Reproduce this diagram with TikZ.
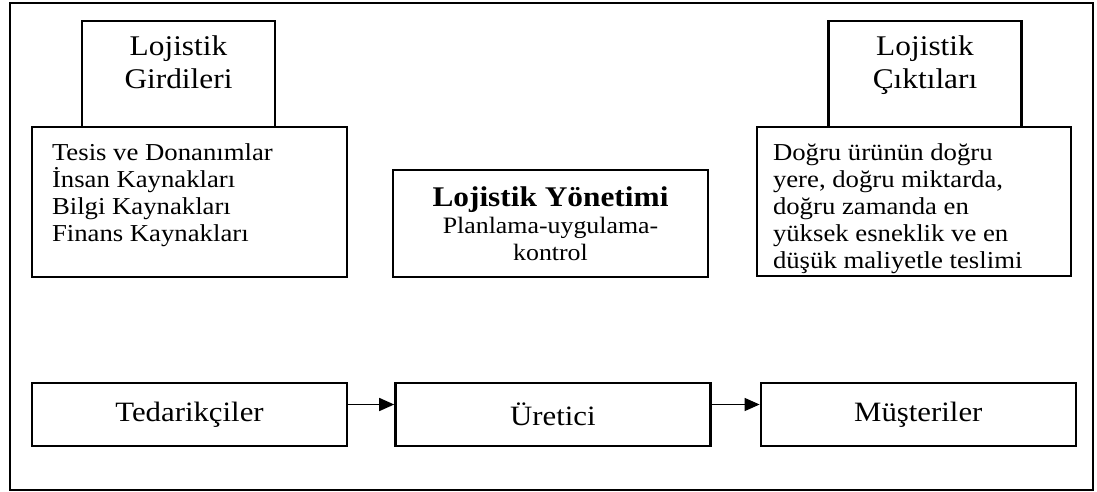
\documentclass[tikz,border=0pt]{standalone}
\usepackage{fontspec}
\setmainfont[FakeStretch=1.1]{Liberation Serif}
\usetikzlibrary{positioning}
\usetikzlibrary{arrows.meta}

\begin{document}
\begin{tikzpicture}[x=1pt, y=-1pt, node distance=46pt,
                    box/.style={draw=black, line width=2.4pt, fill=white, inner sep=0pt},
                    hdr/.style={box, minimum width=193pt, minimum height=106pt},
                    hdrtext/.style={font=\fontsize{28.5}{33}\selectfont, align=center, inner sep=0pt},
                    info/.style={box, minimum width=315pt, minimum height=150pt},
                    listtext/.style={font=\fontsize{24.3}{27}\selectfont, align=left,
                                     inner sep=0pt, anchor=north west},
                    flow/.style={box, minimum width=315pt, minimum height=63pt,
                                 font=\fontsize{28}{32}\selectfont},
                    arr/.style={line width=1.5pt, -{Triangle[length=15pt, width=13pt]}}]

  \fill[white] (0,0) rectangle (1097,492);
  \useasboundingbox (0,0) rectangle (1097,492);

  \node[draw=black, line width=1.8pt, inner sep=0pt, minimum width=1083pt,
        minimum height=487pt, anchor=north west] (frame) at (9,2) {};

  \node[hdr] (girhead) at (178.5,74) {};
  \node[hdrtext, anchor=north] (girtitle) at ([yshift=-16pt]girhead.north)
    {Lojistik\\Girdileri};
  \node[info] (girdi) at (189.5,202) {};
  \node[listtext] (girlist) at ([xshift=21pt, yshift=-18pt]girdi.north west)
    {Tesis ve Donanımlar\\İnsan Kaynakları\\Bilgi Kaynakları\\Finans Kaynakları};

  \node[hdr] (cikhead) at (925,74) {};
  \node[hdrtext, anchor=north] (ciktitle) at ([yshift=-16pt]cikhead.north)
    {Lojistik\\Çıktıları};
  \node[info, minimum width=314pt, minimum height=149pt] (cikti) at (914,201.5) {};
  \node[listtext] (ciklist) at ([xshift=17pt, yshift=-18pt]cikti.north west)
    {Doğru ürünün doğru\\yere, doğru miktarda,\\doğru zamanda en\\yüksek\ esneklik\ ve\ en\\düşük maliyetle teslimi};

  \node[box, minimum width=315pt, minimum height=107pt, align=center,
        font=\fontsize{23.5}{27}\selectfont] (yonetim) at (550.5,223.5)
    {{\fontsize{28.5}{30}\selectfont\bfseries Lojistik Yönetimi}\\Planlama-uygulama-\\kontrol};

  \node[flow] (tedarik) at (189.5,414.5) {Tedarikçiler};
  \node[flow, right=46pt of tedarik] (uretici) {Üretici};
  \node[flow, right=48pt of uretici]  (musteri) {Müşteriler};

  \draw[arr] ([yshift=10pt]tedarik.east) -- ([yshift=10pt]uretici.west);
  \draw[arr] ([yshift=10pt]uretici.east) -- ([yshift=10pt]musteri.west);

\end{tikzpicture}
\end{document}
